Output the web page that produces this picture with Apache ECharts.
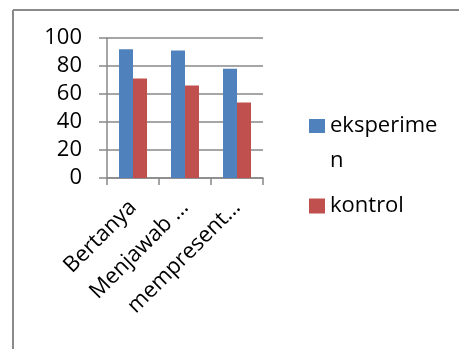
<!DOCTYPE html>
<html>
<head>
<meta charset="utf-8">
<script src="https://cdn.jsdelivr.net/npm/echarts@6/dist/echarts.min.js"></script>
<style>
  html, body { margin: 0; padding: 0; background: #fff; }
  #chart { width: 459px; height: 349px; }
</style>
</head>
<body>
<div id="chart"></div>
<script>
// Category names and series values
const categories = ['Bertanya', 'Menjawab ...', 'mempresent...'];
const eksperimen = [92, 91, 78];
const kontrol = [71, 66, 54];
const yTicks = { min: 0, max: 100, interval: 20 };

const FONT = '"Open Sans", sans-serif';
const GRAY = '#888888';

const chart = echarts.init(document.getElementById('chart'), null, { renderer: 'canvas' });

chart.setOption({
  animation: false,
  backgroundColor: '#ffffff',
  textStyle: { fontFamily: FONT, color: '#000' },
  graphic: [
    // chart-area frame (top and left edges)
    { type: 'line', shape: { x1: 13, y1: 10, x2: 459, y2: 10 }, style: { stroke: '#8a8a8a', lineWidth: 2 } },
    { type: 'line', shape: { x1: 13, y1: 10, x2: 13, y2: 349 }, style: { stroke: '#8a8a8a', lineWidth: 2 } }
  ],
  grid: { left: 107, right: 196, top: 38, bottom: 171, containLabel: false },
  xAxis: {
    type: 'category',
    data: categories,
    boundaryGap: true,
    axisLine: { show: true, lineStyle: { color: GRAY, width: 1.5 } },
    axisTick: { show: true, length: 7, lineStyle: { color: GRAY, width: 1.5 } },
    axisLabel: {
      rotate: 45,
      interval: 0,
      margin: 26,
      fontSize: 22,
      fontFamily: FONT,
      color: '#000'
    }
  },
  yAxis: {
    type: 'value',
    min: yTicks.min,
    max: yTicks.max,
    interval: yTicks.interval,
    axisLine: { show: true, lineStyle: { color: GRAY, width: 1.5 } },
    axisTick: { show: true, length: 8, lineStyle: { color: GRAY, width: 1.5 } },
    splitLine: { show: true, lineStyle: { color: GRAY, width: 1.5 } },
    axisLabel: { margin: 25, fontSize: 22, fontFamily: FONT, color: '#000' }
  },
  legend: [
    {
      // tall item box so the swatch sits beside the first of the two text lines
      orient: 'vertical',
      left: 304,
      top: 103,
      itemWidth: 16,
      itemHeight: 48,
      icon: 'path://M0 0H16V14H0Z M0 48H16',
      data: [{ name: 'eksperimen' }],
      textStyle: {
        fontSize: 22, fontFamily: FONT, color: '#000',
        lineHeight: 35, width: 112, overflow: 'breakAll'
      }
    },
    {
      orient: 'vertical',
      left: 304,
      top: 190,
      itemWidth: 16,
      itemHeight: 15,
      icon: 'rect',
      data: [{ name: 'kontrol' }],
      textStyle: { fontSize: 22, fontFamily: FONT, color: '#000' }
    }
  ],
  series: [
    {
      name: 'eksperimen',
      type: 'bar',
      data: eksperimen,
      barWidth: 14,
      barGap: '0%',
      itemStyle: { color: '#4F81BD' }
    },
    {
      name: 'kontrol',
      type: 'bar',
      data: kontrol,
      barWidth: 14,
      barGap: '0%',
      itemStyle: { color: '#C0504D' }
    }
  ]
});
</script>
</body>
</html>
